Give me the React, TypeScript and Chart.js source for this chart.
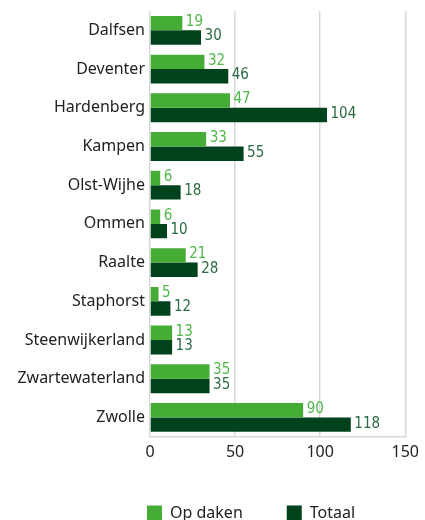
import React, { useEffect, useRef } from "react";
import { Chart, registerables } from "chart.js";

Chart.register(...registerables);

const categories = [
  "Dalfsen",
  "Deventer",
  "Hardenberg",
  "Kampen",
  "Olst-Wijhe",
  "Ommen",
  "Raalte",
  "Staphorst",
  "Steenwijkerland",
  "Zwartewaterland",
  "Zwolle",
];
const opDaken = [19, 32, 47, 33, 6, 6, 21, 5, 13, 35, 90];
const totaal = [30, 46, 104, 55, 18, 10, 28, 12, 13, 35, 118];
const xTicks = [0, 50, 100, 150];

const LIGHT = "#45ad35";
const DARK = "#00421c";
const LIGHT_LABEL = "#4fb848";
const DARK_LABEL = "#2c6a43";
const FONT = "'Noto Sans', sans-serif";
const LABEL_FONT = "'Liberation Sans Narrow', 'DejaVu Sans Condensed', sans-serif";

const valueLabels = {
  id: "valueLabels",
  afterDatasetsDraw(chart: any) {
    const ctx = chart.ctx;
    ctx.save();
    ctx.font = `15px ${LABEL_FONT}`;
    ctx.textAlign = "left";
    ctx.textBaseline = "middle";
    chart.data.datasets.forEach((ds: any, di: number) => {
      const meta = chart.getDatasetMeta(di);
      ctx.fillStyle = di === 0 ? LIGHT_LABEL : DARK_LABEL;
      meta.data.forEach((el: any, i: number) => {
        ctx.fillText(String(ds.data[i]), el.x + 3.5, el.y - 1);
      });
    });
    ctx.restore();
  },
};

const legendShift = {
  id: "legendShift",
  afterLayout(chart: any) {
    if (chart.legend) {
      chart.legend.left = 103;
    }
  },
};

export default function App() {
  const ref = useRef<HTMLCanvasElement | null>(null);
  useEffect(() => {
    if (!ref.current) return;
    const chart = new Chart(ref.current, {
      type: "bar",
      data: {
        labels: categories,
        datasets: [
          {
            label: "Op daken",
            data: opDaken,
            backgroundColor: LIGHT,
            borderWidth: 0,
            categoryPercentage: 0.745,
            barPercentage: 1,
          },
          {
            label: "Totaal",
            data: totaal,
            backgroundColor: DARK,
            borderWidth: 0,
            categoryPercentage: 0.745,
            barPercentage: 1,
          },
        ],
      },
      options: {
        indexAxis: "y",
        animation: false,
        responsive: false,
        maintainAspectRatio: false,
        layout: { padding: { top: 11, left: 0, right: 0, bottom: 0 } },
        scales: {
          x: {
            min: 0,
            max: 150,
            afterBuildTicks(scale: any) {
              scale.ticks = xTicks.map((v) => ({ value: v }));
            },
            afterFit(scale: any) {
              scale.height -= 7;
            },
            grid: { color: "#d8d8d8", lineWidth: 1.5, drawTicks: false },
            border: { display: true, color: "#d8d8d8", width: 1.5 },
            ticks: {
              padding: 6,
              color: "#222",
              font: { family: FONT, size: 16 },
            },
          },
          y: {
            grid: { display: false, drawTicks: false },
            border: { display: false },
            afterFit(scale: any) {
              scale.width = 150;
              scale.paddingTop = 0;
            },
            ticks: {
              padding: 5,
              color: "#222",
              font: { family: FONT, size: 16 },
            },
          },
        },
        plugins: {
          tooltip: { enabled: false },
          legend: {
            position: "bottom",
            align: "start",
            labels: {
              boxWidth: 15,
              boxHeight: 15,
              padding: 44,
              color: "#222",
              font: { family: FONT, size: 16 },
            },
          },
        },
      },
      plugins: [valueLabels, legendShift],
    } as any);
    return () => chart.destroy();
  }, []);
  return (
    <div
      style={{
        position: "fixed",
        left: 0,
        top: 0,
        width: 425,
        height: 520,
        overflow: "hidden",
        background: "#fff",
      }}
    >
      <canvas ref={ref} width={425} height={531} style={{ display: "block" }} />
    </div>
  );
}
